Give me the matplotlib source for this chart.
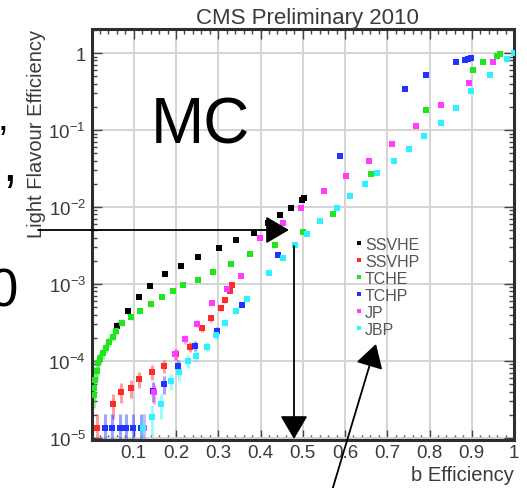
import numpy as np
import matplotlib
matplotlib.use("Agg")
import matplotlib.pyplot as plt
from matplotlib.ticker import FixedLocator, FixedFormatter, MultipleLocator, LogLocator, NullFormatter
from matplotlib.lines import Line2D

plt.rcParams['font.family'] = ['Liberation Sans', 'DejaVu Sans']
plt.rcParams['mathtext.fontset'] = 'custom'
plt.rcParams['mathtext.rm'] = 'Liberation Sans'
plt.rcParams['mathtext.it'] = 'Liberation Sans:italic'
plt.rcParams['mathtext.bf'] = 'Liberation Sans:bold'

# ---- b-tagging performance: b efficiency vs light-flavour mistag rate ----
taggers = ["SSVHE", "SSVHP", "TCHE", "TCHP", "JP", "JBP"]

ssvhe_x = [0.061, 0.086, 0.113, 0.139, 0.174, 0.213, 0.252, 0.301, 0.341, 0.385,
           0.417, 0.446, 0.472, 0.498, 0.503]
ssvhe_y = [2.86e-4, 4.52e-4, 6.8e-4, 9.5e-4, 1.35e-3, 1.73e-3, 2.24e-3, 2.9e-3, 3.78e-3,
           4.6e-3, 6.2e-3, 7.8e-3, 9.6e-3, 1.23e-2, 1.3e-2]

ssvhp_x = [0.012, 0.052, 0.069, 0.094, 0.112, 0.143, 0.172, 0.201, 0.232, 0.262,
           0.282, 0.306, 0.315, 0.327, 0.333]
ssvhp_y = [1.35e-5, 2.75e-5, 4.0e-5, 4.5e-5, 5.8e-5, 7.2e-5, 8.6e-5, 1.22e-4, 1.53e-4,
           2.64e-4, 3.56e-4, 4.8e-4, 6.1e-4, 8.2e-4, 9.8e-4]

tche_x = [0.006, 0.007, 0.009, 0.012, 0.016, 0.021, 0.028, 0.034, 0.041, 0.051, 0.059,
          0.072, 0.094, 0.114, 0.141, 0.167, 0.192, 0.216, 0.251, 0.287, 0.331, 0.375,
          0.435, 0.501, 0.571, 0.662, 0.792, 0.902, 0.927, 0.959, 0.967]
tche_y = [3.56e-5, 4.5e-5, 5.7e-5, 7.3e-5, 9.5e-5, 1.10e-4, 1.28e-4, 1.49e-4, 1.78e-4,
          2.06e-4, 2.47e-4, 3.13e-4, 3.71e-4, 4.43e-4, 5.5e-4, 6.8e-4, 8.2e-4, 9.6e-4,
          1.13e-3, 1.41e-3, 1.82e-3, 2.45e-3, 3.2e-3, 4.8e-3, 8.0e-3, 2.65e-2, 0.184,
          0.61, 0.77, 0.925, 0.97]

tchp_x = [0.031, 0.049, 0.067, 0.082, 0.098, 0.116, 0.146, 0.171, 0.205, 0.245, 0.296,
          0.356, 0.442, 0.587, 0.742, 0.792, 0.862, 0.884, 0.892, 0.898]
tchp_y = [1.35e-5, 1.35e-5, 1.35e-5, 1.35e-5, 1.35e-5, 1.35e-5, 4.1e-5, 5.0e-5, 8.6e-5,
          1.58e-4, 2.45e-4, 5.4e-4, 2.39e-3, 4.6e-2, 0.343, 0.52, 0.77, 0.82, 0.84, 0.86]

jp_x = [0.125, 0.148, 0.198, 0.221, 0.249, 0.286, 0.320, 0.355, 0.399, 0.453, 0.496,
        0.551, 0.602, 0.657, 0.712, 0.767, 0.827, 0.893, 0.951]
jp_y = [1.35e-5, 3.9e-5, 1.22e-4, 1.9e-4, 3.04e-4, 5.7e-4, 8.7e-4, 1.26e-3, 3.97e-3,
        6.2e-3, 9.8e-3, 1.63e-2, 2.55e-2, 3.98e-2, 6.5e-2, 0.113, 0.213, 0.41, 0.77]

jbp_x = [0.122, 0.144, 0.165, 0.188, 0.208, 0.228, 0.247, 0.273, 0.294, 0.316, 0.341,
         0.367, 0.421, 0.453, 0.482, 0.511, 0.542, 0.582, 0.612, 0.647, 0.676, 0.717,
         0.751, 0.787, 0.827, 0.862, 0.898, 0.943, 0.984, 1.0]
jbp_y = [1.35e-5, 1.85e-5, 2.75e-5, 5.5e-5, 7.1e-5, 1.0e-4, 1.16e-4, 1.52e-4, 2.17e-4,
         3.13e-4, 4.43e-4, 6.4e-4, 1.39e-3, 2.17e-3, 3.22e-3, 4.43e-3, 6.6e-3, 9.6e-3,
         1.40e-2, 1.99e-2, 2.79e-2, 3.98e-2, 5.6e-2, 8.3e-2, 0.124, 0.195, 0.32, 0.52,
         0.84, 1.0]

# weight of a single mistagged jet in the MC sample (sets the stat. error bars)
EVENT_WEIGHT = 1.35e-5

xtick_vals = [0.1, 0.2, 0.3, 0.4, 0.5, 0.6, 0.7, 0.8, 0.9, 1.0]
xtick_labels = ["0.1", "0.2", "0.3", "0.4", "0.5", "0.6", "0.7", "0.8", "0.9", "1"]
ytick_vals = [1e-5, 1e-4, 1e-3, 1e-2, 1e-1, 1.0]
ytick_labels = [r"$10^{-5}$", r"$10^{-4}$", r"$10^{-3}$", r"$10^{-2}$", r"$10^{-1}$", "1"]

series = [
    (ssvhe_x, ssvhe_y, "#000000"),
    (ssvhp_x, ssvhp_y, "#ff2a2a"),
    (tche_x, tche_y, "#1fe61f"),
    (tchp_x, tchp_y, "#2233ff"),
    (jp_x, jp_y, "#ff3cff"),
    (jbp_x, jbp_y, "#2ef2ff"),
]

TXT = "#3a3a3a"
W, H = 527, 489
fig = plt.figure(figsize=(W / 100, H / 100), dpi=100)
ax = fig.add_axes([91.5 / W, (H - 441) / H, (514 - 91.5) / W, (441 - 30) / H])

ax.set_xlim(0, 1)
ax.set_yscale("log")
ax.set_ylim(9.4e-6, 2.05)

handles = []
for (xs, ys, c), name in zip(series, taggers):
    xs = np.asarray(xs)
    ys = np.asarray(ys)
    err = 0.5 * np.sqrt(ys * EVENT_WEIGHT)
    ax.errorbar(xs, ys, yerr=err, fmt="none", ecolor=c, alpha=0.45,
                elinewidth=2.2, capsize=0, zorder=2)
    ax.plot(xs, ys, linestyle="none", marker="s", ms=4.0, mew=0, color=c, zorder=3)
    handles.append(Line2D([], [], linestyle="none", marker="s", ms=3.0, mew=0, color=c))

# axes styling (inward ticks on all sides, light grid)
ax.set_axisbelow(True)
ax.grid(True, which="major", color="#d4d4d4", lw=1.4)
for s in ax.spines.values():
    s.set_linewidth(2.2)
    s.set_color("#2e2e2e")

ax.xaxis.set_major_locator(FixedLocator(xtick_vals))
ax.xaxis.set_major_formatter(FixedFormatter(xtick_labels))
ax.xaxis.set_minor_locator(MultipleLocator(0.02))
ax.yaxis.set_major_locator(FixedLocator(ytick_vals))
ax.yaxis.set_major_formatter(FixedFormatter(ytick_labels))
ax.yaxis.set_minor_locator(LogLocator(base=10, subs=np.arange(2, 10)))
ax.yaxis.set_minor_formatter(NullFormatter())

ax.tick_params(which="both", direction="in", top=True, right=True, color="#444444",
               width=1.0, labelcolor=TXT, labelsize=13.5)
ax.tick_params(which="major", length=7)
ax.tick_params(which="minor", length=3.5)
ax.tick_params(axis="x", pad=3)
ax.tick_params(axis="y", pad=4)

ax.set_xlabel("b Efficiency", loc="right", fontsize=14.5, color=TXT, labelpad=3)
ax.set_ylabel("Light Flavour Efficiency", loc="top", fontsize=14.5, color=TXT)
ax.yaxis.set_label_coords(-0.108, 1.0)
ax.set_title("CMS Preliminary 2010", fontsize=16, color=TXT, x=(307 - 91.5) / 422.5, pad=4)

ax.legend(handles, taggers, loc="upper left", bbox_to_anchor=(356 / W, 1 - 238 / H),
          bbox_transform=fig.transFigure, frameon=False, fontsize=11.5,
          handlelength=0.4, handletextpad=0.15, labelspacing=0.12, borderpad=0,
          borderaxespad=0, labelcolor="#555555")

# overlay in pixel coordinates for annotations
ov = fig.add_axes([0, 0, 1, 1], zorder=10)
ov.set_xlim(0, W)
ov.set_ylim(H, 0)
ov.axis("off")
ov.patch.set_alpha(0)

arrow = dict(arrowstyle="-|>,head_length=1.45,head_width=0.85", lw=1.3, color="black",
             shrinkA=0, shrinkB=0, mutation_scale=10)
ov.annotate("", xy=(289, 231), xytext=(38, 231), arrowprops=arrow)
ov.annotate("", xy=(294, 440), xytext=(294, 247), arrowprops=arrow)
ov.annotate("", xy=(376, 345), xytext=(331, 495), arrowprops=arrow)

ov.text(150.5, 143.3, "MC", fontsize=46, color="black", ha="left", va="baseline")
ov.text(18, 306.5, "0", fontsize=38, color="black", ha="right", va="baseline")
ov.text(2, 181, ",", fontsize=38, color="black", ha="left", va="baseline")
ov.text(-1, 153, "\u2019", fontsize=28, color="black", ha="left", va="baseline")

fig.savefig("out.png", dpi=100)
